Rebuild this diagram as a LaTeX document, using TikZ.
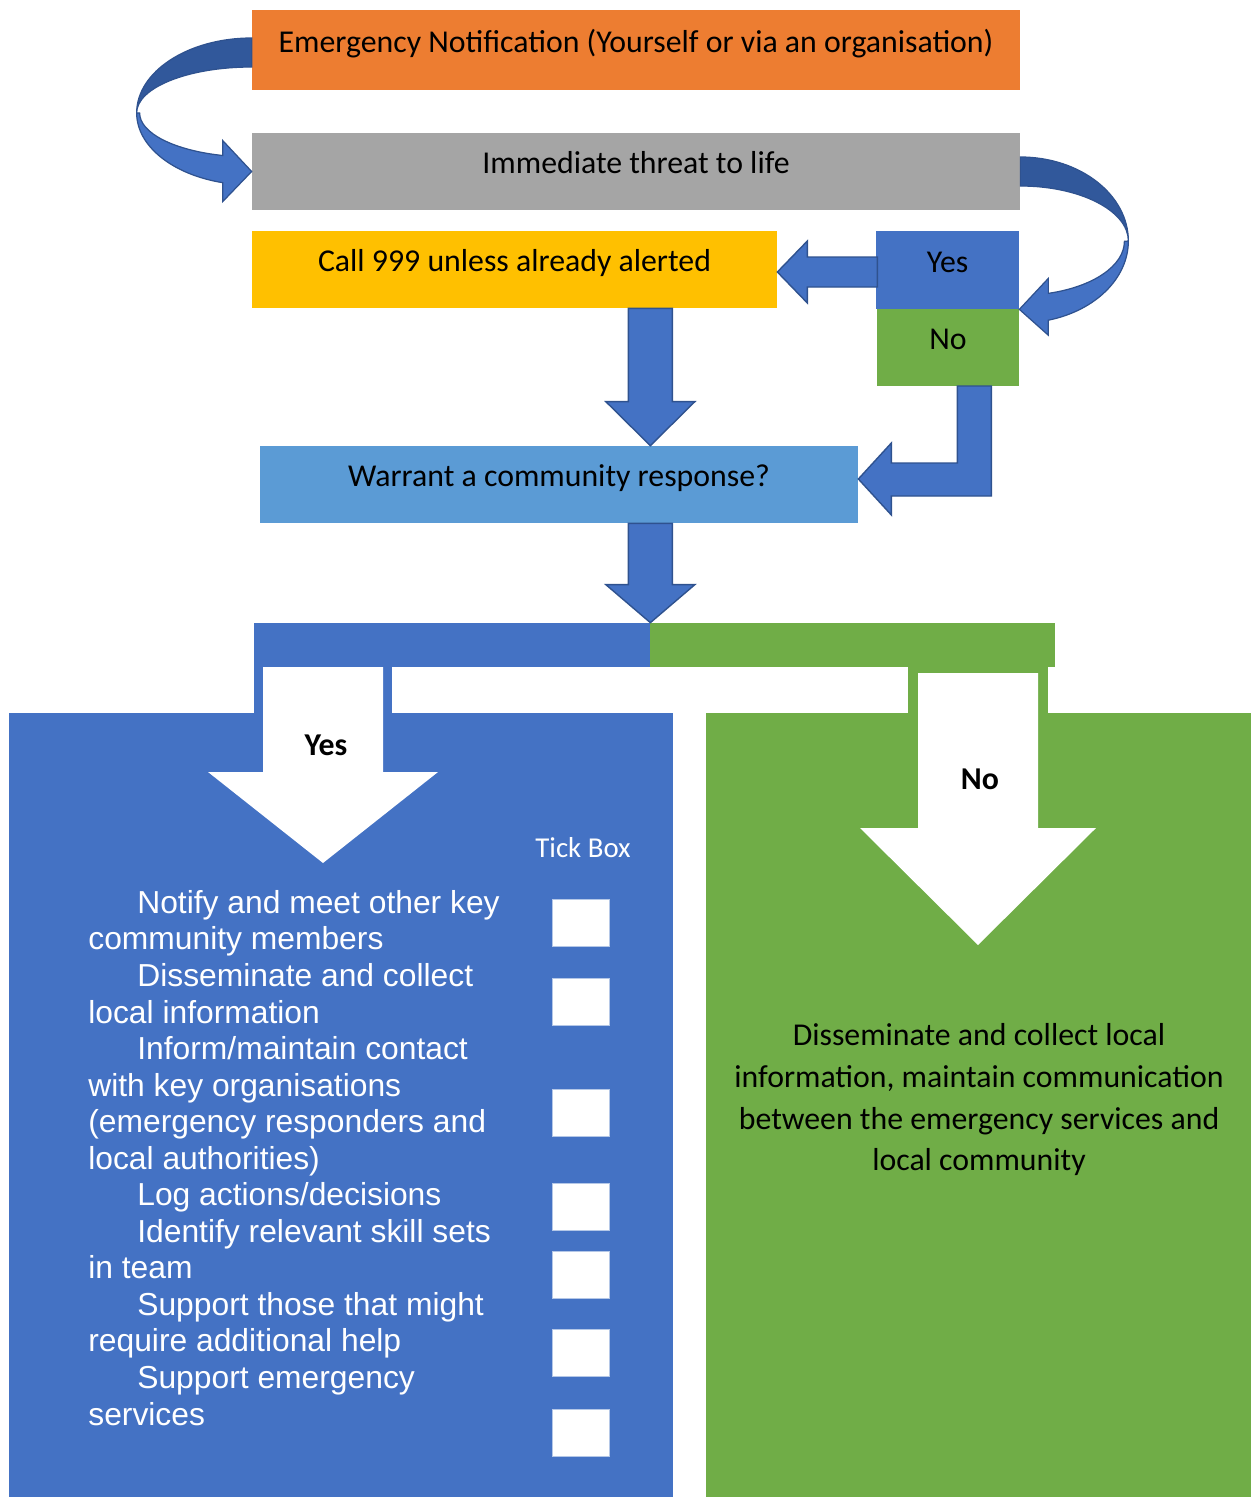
\documentclass[tikz,border=0pt]{standalone}
\usepackage{fontspec}
\setmainfont{Carlito}
\newfontfamily\arialfont{Liberation Sans}
\usetikzlibrary{calc}

\definecolor{notiforange}{HTML}{ED7D31}
\definecolor{threatgray}{HTML}{A5A5A5}
\definecolor{callyellow}{HTML}{FFC000}
\definecolor{yesblue}{HTML}{4472C4}
\definecolor{nogreen}{HTML}{70AD47}
\definecolor{askblue}{HTML}{5B9BD5}
\definecolor{edgeblue}{HTML}{2F528F}
\definecolor{twistblue}{HTML}{31589B}
\definecolor{tickedge}{HTML}{B4C7E7}

\newcommand{\pix}{0.02cm}
\newcommand{\itemgap}{\hspace*{0.98cm}}
\newcommand{\blockdown}[3]{\filldraw[blockarrow] ($(#1)+(-22,0)$) -- ($(#2)+(-22,-#3)$) -- ($(#2)+(-44.5,-#3)$) -- (#2) -- ($(#2)+(44.5,-#3)$) -- ($(#2)+(22,-#3)$) -- ($(#1)+(22,0)$) -- cycle;}

\tikzset{
  wh/.style 2 args={minimum width=#1*\pix, minimum height=#2*\pix},
  box/.style={rectangle, inner sep=0pt, text height=12.4pt, text depth=9.6pt, font=\fontsize{18.1}{21.7}\selectfont},
  blockarrow/.style={fill=yesblue, draw=edgeblue, line width=0.8pt},
  twist/.style={draw=edgeblue, line width=0.7pt},
  tickbox/.style={rectangle, inner sep=0pt, fill=white, draw=tickedge, line width=0.4pt, wh={57}{47}}
}

\begin{document}
\begin{tikzpicture}[x=\pix, y=-\pix]
\useasboundingbox (0,0) rectangle (1251,1497);

\node[box, fill=notiforange, wh={768}{80}] (notif) at (636,50) {Emergency Notification (Yourself or via an organisation)};
\node[box, fill=threatgray, wh={768}{77}] (threat) at (636,171.5) {Immediate threat to life};
\node[box, fill=callyellow, wh={525}{77}] (call) at (514.5,269.5) {Call 999 unless already alerted};
\node[box, fill=yesblue, wh={143}{78}] (yes) at (947.5,270) {Yes};
\node[box, fill=nogreen, wh={142}{77}] (no) at (948,347.5) {No};
\node[box, fill=askblue, wh={598}{77}] (ask) at (559,484.5) {Warrant a community response?};

\node[box, fill=yesblue, wh={396}{44}] (yesbar) at (452,645) {};
\node[box, fill=nogreen, wh={405}{44}] (nobar) at (852.5,645) {};
\node[box, fill=yesblue, wh={664}{784}] (yespanel) at (341,1105) {};
\node[box, fill=nogreen, wh={545}{784}] (nopanel) at (978.5,1105) {};

\filldraw[twist, fill=yesblue] ($(notif.west)+(-115,63)$) arc[start angle=180, end angle=104.6, x radius=115, y radius=72] -- ++(0,19) -- (threat.west) -- ($(threat.west)+(-29,-31)$) -- ++(0,15) arc[start angle=105, end angle=180, x radius=112, y radius=44] -- cycle;
\filldraw[twist, fill=twistblue] ($(notif.west)+(0,-12)$) arc[start angle=270, end angle=180, x radius=115, y radius=75] arc[start angle=180, end angle=270, x radius=115, y radius=46] -- cycle;

\filldraw[twist, fill=yesblue] ($(threat.east)+(108,69.5)$) arc[start angle=0, end angle=75, x radius=108, y radius=82] -- ++(0,15) -- (yes.south east) -- ($(yes.south east)+(29,-31)$) -- ++(0,15) arc[start angle=74.4, end angle=0, x radius=104, y radius=54] -- cycle;
\filldraw[twist, fill=twistblue] ($(threat.east)+(0,-14.5)$) arc[start angle=270, end angle=360, x radius=108, y radius=84] arc[start angle=0, end angle=-90, x radius=108, y radius=55] -- cycle;

\coordinate (hit0) at ($(call.east)+(0,2.5)$);
\filldraw[blockarrow] (hit0) -- ++(30,-31) -- ++(0,16) -- ++(70,0) -- ++(0,30) -- ++(-70,0) -- ++(0,16) -- cycle;

\coordinate (drop1) at (call.south -| yesbar.east);
\coordinate (hit1) at (ask.north -| yesbar.east);
\coordinate (drop2) at (ask.south -| yesbar.east);
\coordinate (hit2) at (yesbar.north east);
\blockdown{drop1}{hit1}{44}
\blockdown{drop2}{hit2}{38}

\coordinate (hit3) at ($(ask.east)+(0,-5.5)$);
\filldraw[blockarrow] (hit3) -- ++(33,-36) -- ++(0,20) -- ++(66,0) -- ++(0,-77) -- ++(34,0) -- ++(0,110) -- ++(-100,0) -- ++(0,19) -- cycle;

\fill[yesblue] (yesbar.south west) rectangle (392,713);
\fill[white] (263,667) -- (263,772) -- (208,772) -- (323,863) -- (438,772) -- (383,772) -- (383,667) -- cycle;
\fill[nogreen] (908,667) rectangle (1048,713);
\fill[white] (918,673) -- (918,828) -- (860,828) -- (978,945) -- (1096,828) -- (1038,828) -- (1038,673) -- cycle;

\node[font=\fontsize{18.1}{21.7}\selectfont\bfseries] (yestag) at (326,745) {Yes};
\node[font=\fontsize{18.1}{21.7}\selectfont\bfseries] (notag) at (980,779) {No};
\node[text=white, font=\fontsize{16.4}{19.7}\selectfont] (ticklbl) at (583,848) {Tick Box};

\node[anchor=north west, inner sep=0pt, align=left, text=white, font=\arialfont\fontsize{18.1}{20.8}\selectfont] (todo) at (88,890) {\itemgap Notify and meet other key\\
community members\\
\itemgap Disseminate and collect\\
local information\\
\itemgap Inform/maintain contact\\
with key organisations\\
(emergency responders and\\
local authorities)\\
\itemgap Log actions/decisions\\
\itemgap Identify relevant skill sets\\
in team\\
\itemgap Support those that might\\
require additional help\\
\itemgap Support emergency\\
services};

\foreach \t [count=\i] in {899,978,1089,1183,1251,1329,1409}
  \node[tickbox] (tick\i) at (580.5,\t+23.5) {};

\node[anchor=north, inner sep=0pt, align=center, font=\fontsize{18.1}{23.8}\selectfont] (notext) at (979,1023) {Disseminate and collect local\\information, maintain communication\\between the emergency services and\\local community};
\end{tikzpicture}
\end{document}
